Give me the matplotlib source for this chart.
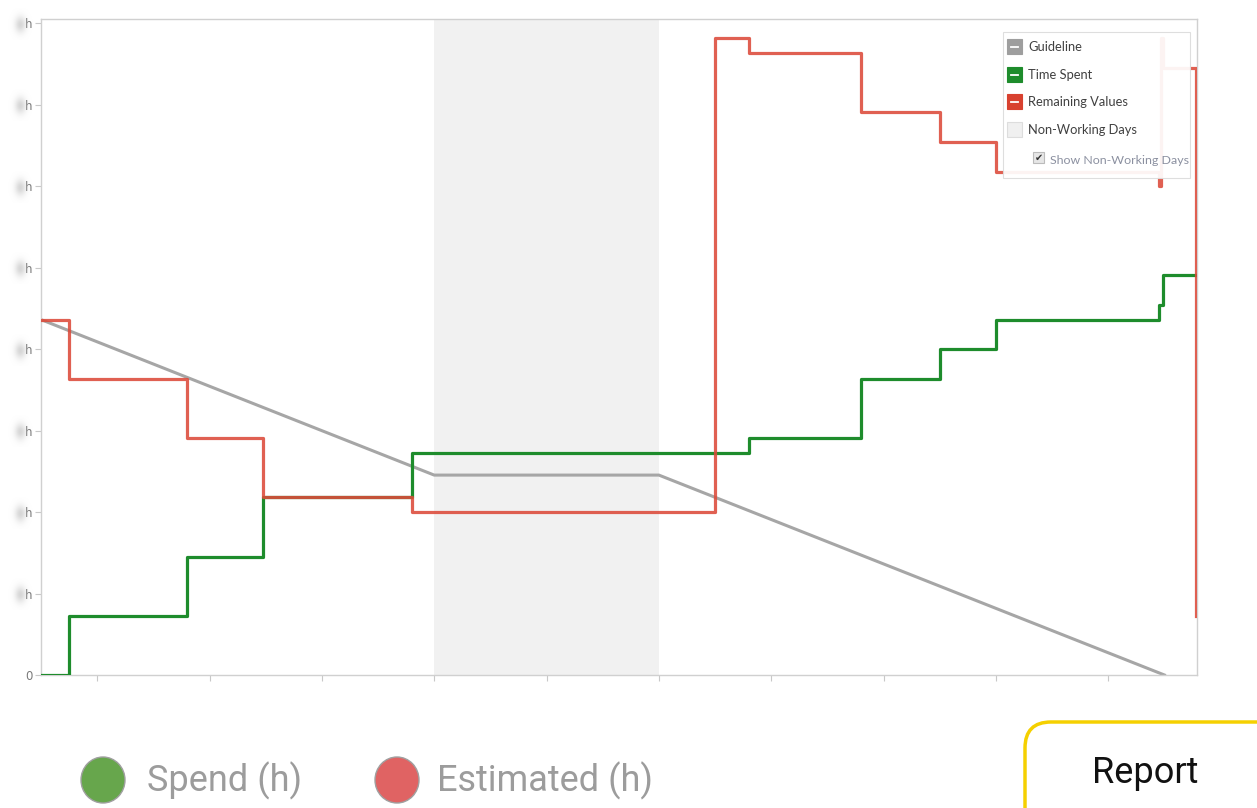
import numpy as np
import matplotlib.pyplot as plt
import matplotlib.patches as mpatches
from matplotlib.lines import Line2D

W, H = 1257, 808

# time axis in days, hours on y
spent_x = [0, 0.25, 1.3, 1.98, 3.3, 6.3, 7.3, 8.0, 8.5, 9.95, 9.99, 10.28]
spent_h = [0, 8, 16, 24, 30, 32, 40, 44, 48, 50, 54, 54]

remaining_x = [0, 0.25, 1.3, 1.98, 3.3, 6.0, 6.3, 7.3, 8.0, 8.5, 9.95, 9.97, 9.99, 10.28]
remaining_h = [48, 40, 32, 24, 22, 86, 84, 76, 72, 68, 66, 86, 82, 8]

guide_x = [0, 3.5, 5.5, 10]
guide_h = [48, 27, 27, 0]

non_working = (3.5, 5.5)
y_ticks = [0, 11, 22, 33, 44, 55, 66, 77, 88]
x_ticks = [0.5, 1.5, 2.5, 3.5, 4.5, 5.5, 6.5, 7.5, 8.5, 9.5]

legend_items = ["Guideline", "Time Spent", "Remaining Values", "Non-Working Days"]
legend_colors = ["#9e9e9e", "#1e8c2c", "#d8412f", "#f0f0f0"]

GREEN = "#1e8c2c"
RED = "#dc4a3a"
GREY = "#a6a6a6"


def fx(px):
    return px / W


def fy(py):
    return 1 - py / H


fig = plt.figure(figsize=(W / 100, H / 100), dpi=100)
fig.patch.set_facecolor("white")
ax = fig.add_axes([fx(41), fy(675), fx(1197) - fx(41), fy(19) - fy(675)])

ax.axvspan(*non_working, color="#f1f1f1", lw=0, zorder=0)
ax.plot(guide_x, guide_h, color=GREY, lw=2.2, zorder=2)
ax.step(spent_x, spent_h, where="post", color=GREEN, lw=2.3, zorder=3)
ax.step(remaining_x, remaining_h, where="post", color=RED, lw=2.3, alpha=0.88, zorder=4)

ax.set_xlim(0, 10.29)
ax.set_ylim(0, 88.6)
ax.set_xticks(x_ticks)
ax.set_xticklabels([])
ax.set_yticks(y_ticks)
ax.set_yticklabels(["0"] + ["h"] * (len(y_ticks) - 1))
ax.tick_params(axis="both", colors="#c8c8c8", length=4, width=0.8)
ax.tick_params(axis="y", labelcolor="#7a7a7a", labelsize=8.5, pad=2)
for s in ax.spines.values():
    s.set_color("#d0d0d0")
    s.set_linewidth(1.0)

# legend box in the top-right corner
box = mpatches.Rectangle((fx(1003), fy(178)), fx(1190) - fx(1003), fy(32) - fy(178),
                         transform=fig.transFigure, fc="white", ec="#dcdcdc", lw=0.8,
                         alpha=0.93, zorder=10)
fig.add_artist(box)
rows = [47, 75, 102, 130]
for label, col, py in zip(legend_items, legend_colors, rows):
    sw = mpatches.Rectangle((fx(1007), fy(py + 7)), fx(15), fy(0) - fy(15),
                            transform=fig.transFigure, fc=col,
                            ec="#dddddd" if col == "#f0f0f0" else col, lw=0.8, zorder=11)
    fig.add_artist(sw)
    if col != "#f0f0f0":
        fig.add_artist(Line2D([fx(1011), fx(1018)], [fy(py), fy(py)], color="white",
                              lw=1.3, transform=fig.transFigure, zorder=12))
    fig.text(fx(1028), fy(py), label, fontsize=9.3, color="#404040", va="center",
             family="Lato", zorder=12)
chk = mpatches.Rectangle((fx(1033), fy(163)), fx(11), fy(0) - fy(11),
                         transform=fig.transFigure, fc="#e6e6e6", ec="#bbbbbb", lw=0.8, zorder=11)
fig.add_artist(chk)
fig.text(fx(1038.5), fy(157.5), "\u2714", fontsize=7, color="#333333", ha="center",
         va="center", zorder=12)
fig.text(fx(1050), fy(161), "Show Non-Working Days", fontsize=8.9, color="#8b90a0",
         va="center", family="Lato", zorder=12)

# blurred values in front of the "h" labels
yy, xx = np.mgrid[0:32, 0:26]
blob = np.zeros((32, 26, 4))
blob[..., :3] = 0.78
blob[..., 3] = 0.7 * np.exp(-((xx - 13) / 5.5) ** 2 - ((yy - 16) / 8.0) ** 2)
for v in y_ticks[1:]:
    ypix = ax.transData.transform((0, v))[1]
    fig.figimage(blob, xo=7, yo=int(ypix - 16), zorder=5)

# bottom legend
fig.add_artist(mpatches.Ellipse((fx(103), fy(780)), fx(44), fy(0) - fy(46),
                                transform=fig.transFigure, fc="#67a64c", ec="#a0a0a0", lw=1))
fig.text(fx(147), fy(781), "Spend (h)", fontsize=26, color="#9c9c9c", va="center",
         family="Roboto")
fig.add_artist(mpatches.Ellipse((fx(397), fy(780)), fx(44), fy(0) - fy(46),
                                transform=fig.transFigure, fc="#e06363", ec="#a0a0a0", lw=1))
fig.text(fx(437), fy(781), "Estimated (h)", fontsize=26, color="#9c9c9c", va="center",
         family="Roboto")

# report button
btn = mpatches.FancyBboxPatch((10.25, -0.6), 3.0, 1.46,
                              boxstyle="round,pad=0,rounding_size=0.26",
                              transform=fig.dpi_scale_trans, fc="white", ec="#f5d000", lw=2.5)
fig.add_artist(btn)
fig.text(fx(1145), fy(773), "Report", fontsize=26, color="#111111", ha="center",
         va="center", family="Roboto")

fig.savefig("out.png", dpi=100)
